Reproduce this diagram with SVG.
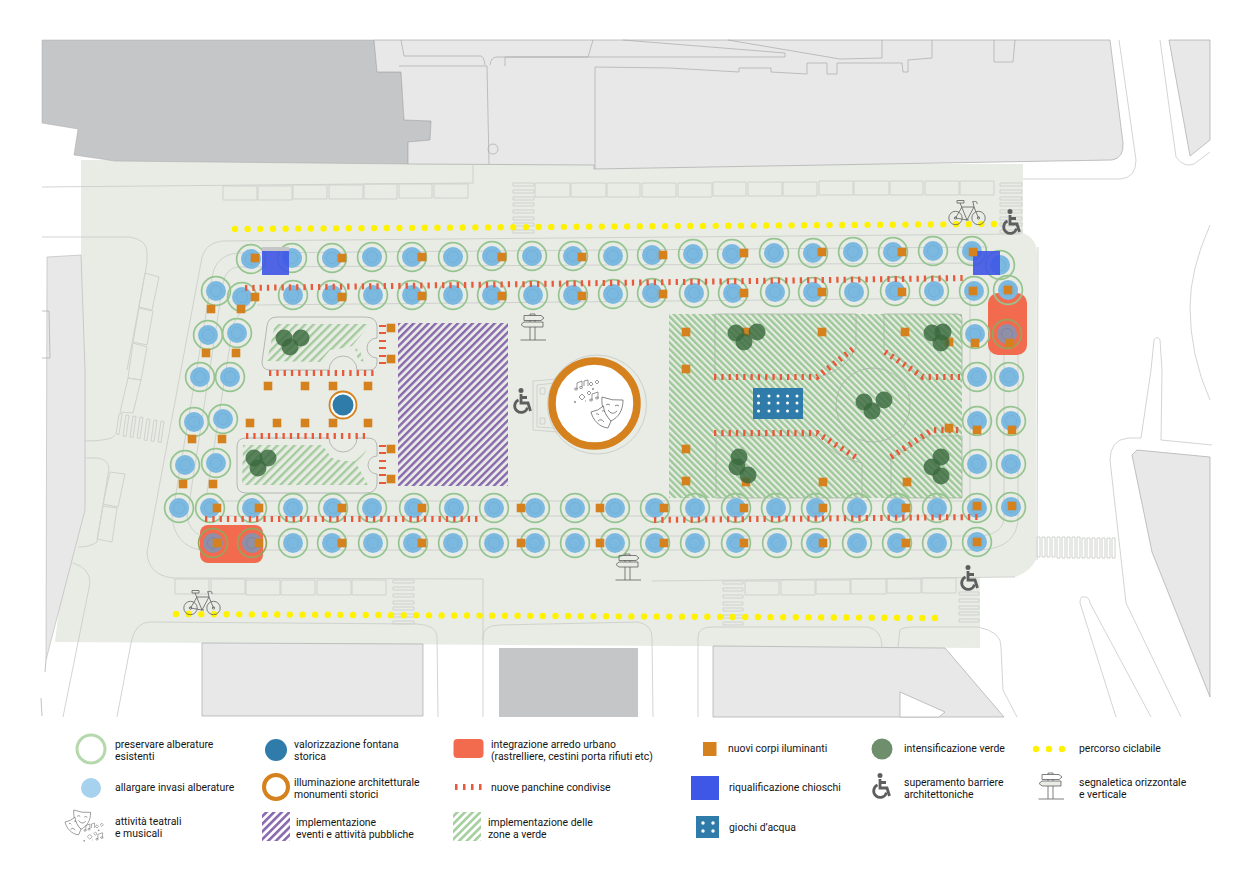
<svg xmlns="http://www.w3.org/2000/svg" width="1240" height="874" viewBox="0 0 1240 874">
<style>
.l{fill:none;stroke:#c8cac7;stroke-width:.8}
.o{fill:none;stroke:#aeb1ac;stroke-width:.9}
.f{fill:none;stroke:#a7b6a3;stroke-width:.8}
.k{fill:none;stroke:#cfd2cd;stroke-width:1}
.b{fill:#e8e8e8;stroke:#a9a9a9;stroke-width:.7}
.in{fill:none;stroke:#a9a9a9;stroke-width:.7}
.bn{fill:none;stroke:#e8583a;stroke-width:6;stroke-dasharray:2.3 5}
.bs{fill:none;stroke:#e8583a;stroke-width:2.2}
.cl{fill:#3a6a3e;fill-opacity:.82}
.yl{fill:none;stroke:#fff200;stroke-width:6.4;stroke-linecap:round;stroke-dasharray:0 12.65}
.ic{fill:none;stroke:#5f5f5f;stroke-width:.8}
.wc{fill:none;stroke:#5e5e5e;stroke-width:2.8}
.lg{font-family:Roboto,"Liberation Sans",sans-serif;font-size:10.45px;fill:#151515}
</style>
<defs>
<pattern id="hp" width="5.2" height="5.2" patternUnits="userSpaceOnUse" patternTransform="rotate(45)"><rect width="5.2" height="5.2" fill="#e8ece5"/><rect width="2.4" height="5.2" fill="#8a68ae"/></pattern>
<pattern id="hg" width="4.6" height="4.6" patternUnits="userSpaceOnUse" patternTransform="rotate(-45)"><rect width="4.6" height="4.6" fill="#e8ece5"/><rect width="2.4" height="4.6" fill="#9dc898"/></pattern>
<pattern id="hg2" width="6" height="6" patternUnits="userSpaceOnUse" patternTransform="rotate(45)"><rect width="6" height="6" fill="#e8ece5"/><rect width="2.4" height="6" fill="#a4cb9d"/></pattern>
<pattern id="lp" width="5.4" height="5.4" patternUnits="userSpaceOnUse" patternTransform="rotate(45)"><rect width="2.6" height="5.4" fill="#8a68ae"/></pattern>
<pattern id="lg" width="5.4" height="5.4" patternUnits="userSpaceOnUse" patternTransform="rotate(45)"><rect width="2.6" height="5.4" fill="#a4cf9d"/></pattern>
<g id="t"><circle r="14.400" fill="none" stroke="#96c490" stroke-width="1.700"/><circle r="10" fill="#7cb9e0"/><circle r="5.600" fill="none" stroke="#6faed6" stroke-width=".7"/></g>
<g id="tr"><circle r="14.400" fill="none" stroke="#9aa25f" stroke-width="1.700"/><circle r="10" fill="#8f8fa8"/><circle r="5.600" fill="none" stroke="#7f7f9b" stroke-width=".7"/></g>
<rect id="m" x="-4.300" y="-4.300" width="8.600" height="8.600" fill="#d5811e"/>
<g id="wh"><circle cx="-1" cy="-10.500" r="2.500" fill="#5e5e5e"/><path class="wc" d="M-1,-7V2H6L8.500,10M-1,-3.500H5"/><path class="wc" d="M-3.500,-1A6.500,6.500 0 1 0 5.500,6.500"/></g>
<g id="bk" class="ic"><circle cx="-11.500" cy="6" r="6.700"/><circle cx="11.500" cy="6" r="6.700"/><circle cx="-11.500" cy="6" r="1.200"/><circle cx="11.500" cy="6" r="1.200"/><path d="M-11.500,6L-5,-5H7L0,8ZM-7,-9L0,8M7,-5L11.500,6M6,-10L7,-5M5,-10C7,-11 11,-11 10,-8"/><path d="M-1,8h3M-10,-11.500h7v2.500h-7z"/></g>
<g id="sg" class="ic"><path d="M-12.500,13H13M-3,-7V13M2,-7V13M-3,-11.500V-13h5v1.500"/><path d="M-9,-11.500H8L11,-9L8,-6.500H-9Z"/><path d="M-9,-5H10V0H-9L-12,-2.500Z" fill="#e8ece5"/></g>
<g id="ms" fill="#fff" stroke="#6a6a6a" stroke-width=".8"><path d="M11,0Q21,4 32,3C32,13 28,20 20,24C14,19 10,10 11,0Z"/><path d="M0,15Q7,14 12.500,9C13,15 16,20 20,24L17,31C8,30 2,23 0,15Z"/><path fill="none" d="M15,8q2,-2 4,0M24,9q2,-2 4,0M17,13q4,6 9,1M5,17q2,-1 3,1M11,14q2,-1 3,1M7,24q3,-3 6,1"/></g>
<g id="nt" fill="none" stroke="#6a6a6a" stroke-width=".7"><path d="M1,8V2L6,0V6M8,5V0L12,-1V5M16,19V13L22,11V17"/><ellipse cx="0" cy="8" rx="1.500" ry="1"/><ellipse cx="5" cy="6.500" rx="1.500" ry="1"/><ellipse cx="15" cy="19" rx="1.500" ry="1"/><ellipse cx="21" cy="17" rx="1.500" ry="1"/><path d="M13,3l2,-2l2,2l-2,2zM19,1l2,-2l2,2l-2,2zM3,16l3,-3l3,3l-3,3zM11,12l2,-2l2,2l-2,2zM-2,21h2M-1,20v2M16,8h2M17,7v2M9,20h1"/></g>
</defs>

<g id="base">
<path d="M81,160L1023,164V233Q1036,238 1037,252L1036,560Q1030,572 1015,577H980V648L55,642L81,420Z" fill="#e8ece5"/>
<path d="M42,40H374L377,72H401L404,120L431,121L430,140L408,142V164L115,161L74,155L78,129L42,123Z" fill="#c5c6c8" stroke="#a9a9a9" stroke-width=".5"/>
<path class="b" d="M374,40H1110L1123,143Q1124,158 1112,160L594,169V165L408,164V142L430,140L431,121L404,120L401,72L377,72Z"/>
<path class="in" d="M401,40L404,56H481Q484,57 485,65M399,66H487L489,164M490,65Q491,57 497,57H588L593,40M505,57V66M595,169V67L670,68L739,72V68L771,68V72L807,74V63H827V74H837V63H902L903,72H908V60L932,58V40M882,40V58L840,59L728,40M623,40L785,53V57L505,57M994,40V62H1013L1015,40"/>
<circle class="in" cx="493" cy="149" r="5"/>
<path class="l" d="M1119,40L1136,160Q1136,178 1120,179H1023"/>
<path class="b" d="M1169,40H1210V140L1190,156Z"/>
<path class="l" d="M1160,40L1176,157Q1184,168 1194,164L1210,152M1210,225Q1190,270 1190,307Q1190,355 1210,400M1151,370L1154,340Q1157,335 1160,340L1162,370M1151,370L1141,438H1128Q1110,440 1110,460L1126,603L1181,717M1162,370L1161,440L1212,445"/>
<path class="b" d="M1137,450L1210,457V697L1152,552L1132,455Z"/>
<path class="l" d="M1080,603Q1080,595 1085,597Q1089,597 1090,603L1151,717M1080,603L1116,717"/>
<path d="M47,257L81,255L85,370V510L46,660Z" fill="#e8e8e8" stroke="#a9a9a9" stroke-width=".5"/>
<path class="in" d="M42,311H49L50,358H42M45,672L46,660M41,698L42,716"/>
<path class="b" d="M202,643L423,644V716H202Z"/>
<rect x="499" y="648" width="139" height="69" fill="#c5c6c8"/>
<path class="b" d="M713,646L945,648L1004,717H713Z"/>
<path fill="#fff" stroke="#a9a9a9" stroke-width=".7" d="M900,692L945,712L939,717H900Z"/>
<g id="roads"><path class="l" d="M42,187L473,183L473,165M42,237H130Q147,240 147,252V263L127,370M115,435Q112,441 85,441M85,458H98Q108,460 109,468L97,542Q90,547 78,547M73,563Q90,568 90,583L63,717M117,717L131,643Q135,622 150,622L417,624Q437,625 437,637L438,717M483,717V637Q483,625 500,625L638,622Q652,625 652,637L653,717M698,717V637Q698,627 712,627H868Q882,630 882,647M898,647L900,630Q903,627 914,627H978Q1002,632 1001,647L1003,690L1017,717M147,552Q148,575 173,578L483,579M652,581L1015,577M222,241L1020,234M222,241Q206,243 202,257L147,552M1038,247L1037,560M483,579V640"/></g>
<g id="strips"><path class="k" d="M223,186L257,186V200H223ZM258,186H292V200H258ZM293,185H327V199H293ZM329,185H363V199H329ZM364,184H397V199H364ZM399,184H432V198H399ZM434,184H468V198H434Z"/><path class="k" d="M535,183H570V197H535ZM571,183H606V197H571ZM607,183H640V197H607ZM642,183H676V197H642ZM678,183H712V197H678ZM713,182H746V196H713ZM748,182H782V196H748ZM783,182H817V196H783ZM819,181H853V195H819ZM854,181H889V195H854ZM890,181H923V195H890ZM925,181H959V195H925ZM960,181H994V195H960Z"/><path class="k" d="M175,579H209V594H175ZM211,579H245V594H211ZM246,580H280V595H246ZM281,580H315V595H281ZM317,580H351V595H317ZM352,580H386V595H352Z"/><path class="k" d="M745,581H779V595H745ZM781,580H815V595H781ZM816,580H850V594H816ZM851,579H886V594H851ZM887,579H921V593H887ZM922,578H956V593H922Z"/><path class="k" d="M145,273L159,277L152,310L139,307ZM139,308L153,311L147,345L133,342ZM133,343L147,347L141,380L128,378ZM128,378L141,380L133,413L120,412ZM110,472L125,474L118,507L103,504ZM103,506L117,508L112,542L97,539Z"/></g>
<g id="xing" class="k"><path d="M513,183h21v3h-21zM513,190h21v3h-21zM513,197h21v3h-21zM513,203h21v3h-21zM513,210h21v3h-21zM513,217h21v3h-21zM513,223h21v3h-21zM513,230h21v3h-21zM1000,183h22v3h-22zM1000,190h22v3h-22zM1000,197h22v3h-22zM1000,203h22v3h-22zM1000,210h22v3h-22zM1000,217h22v3h-22zM1000,223h22v3h-22zM1000,230h22v3h-22zM393,580h21v3h-21zM393,587h21v3h-21zM393,594h21v3h-21zM393,601h21v3h-21zM393,607h21v3h-21zM393,614h21v3h-21zM393,621h21v3h-21zM723,581h20v3h-20zM723,588h20v3h-20zM723,595h20v3h-20zM723,602h20v3h-20zM723,608h20v3h-20zM723,615h20v3h-20zM723,622h20v3h-20zM959,592h20v3h-20zM959,599h20v3h-20zM959,606h20v3h-20zM959,612h20v3h-20zM959,619h20v3h-20zM1037,537h3v20h-3zM1042,537h3v20h-3zM1047,537h3v20h-3zM1052,537h3v20h-3zM1057,537h3v21h-3zM1062,537h3v21h-3zM1067,537h3v21h-3zM1072,537h3v21h-3zM1077,537h3v21h-3zM1082,538h3v20h-3zM1087,538h3v20h-3zM1092,538h3v20h-3zM1097,538h3v20h-3zM1102,538h3v20h-3zM1107,538h3v20h-3zM1112,538h3v20h-3zM119,414l3,-.500l-3,21l-3,-.500zM126,415l3,.500l-3,21l-3,-.500zM133,416l3,.500l-3,21l-3,-.500zM140,417l3,.500l-3,21l-3,-.500zM147,419l3,.500l-3,21l-3,-.500zM154,420l3,.500l-3,21l-3,-.500zM161,421l3,.500l-3,21l-3,-.500z"/></g>
</g>

<g id="tracks"><path class="l" d="M988,247L238,253Q215,255 212,278L172,517Q175,545 200,550H980Q1018,548 1018,517V300M988,263L238,267Q226,268 223,283L187,517Q190,532 202,536H980Q1004,534 1004,517V300M257,305L980,298M250,304Q240,310 233,325L207,493M218,501H980M218,516H980M970,300V520M990,300V500"/></g>

<g id="zones">
<rect x="398" y="323" width="110" height="163" fill="url(#hp)"/>
<rect x="669" y="314" width="293" height="184" fill="url(#hg)"/>
<polygon points="275,324 368,324 367,328 352,346 343,348 330,350 320,362 267,361" fill="url(#hg2)"/>
<polygon points="355,348 360,351 364,362 358,360" fill="url(#hg2)"/>
<polygon points="243,445 322,445 332,458 343,461 355,461 367,450 357,465 368,485 242,485" fill="url(#hg2)"/>
<path class="o" d="M277,317H365Q377,317 377,327V338A10,10 0 0 0 377,358V362Q377,370 369,370H357A14,14 0 0 0 329,370H270Q262,370 262,362L267,326Q268,317 277,317ZM246,438H329A14,14 0 0 0 357,438H368Q377,438 377,447V456A9,9 0 0 0 377,474V484Q376,493 366,493H246Q237,493 237,484V447Q237,438 246,438Z"/>
<path class="f" d="M715,377V314H856V348Q845,370 820,377M884,314V350Q905,360 922,377M884,314H958Q962,314 962,318V377M716,498V436H817Q835,458 862,463V498ZM891,498V458L928,436H962V498Z"/>
<circle class="f" cx="873" cy="405" r="37"/>
</g>

<g id="arredo"><rect x="988" y="293" width="39" height="62" rx="10" fill="#f26b4f"/><rect x="200" y="525" width="63" height="38" rx="8" fill="#f26b4f"/></g>

<g id="alberi">
<use href="#t" x="251" y="259"/><use href="#t" x="292" y="258"/><use href="#t" x="332" y="258"/><use href="#t" x="372" y="257"/><use href="#t" x="412" y="257"/><use href="#t" x="453" y="257"/><use href="#t" x="492" y="256"/><use href="#t" x="532" y="256"/><use href="#t" x="573" y="256"/><use href="#t" x="613" y="256"/><use href="#t" x="652" y="255"/><use href="#t" x="693" y="254"/><use href="#t" x="732" y="254"/><use href="#t" x="774" y="253"/><use href="#t" x="813" y="253"/><use href="#t" x="853" y="252"/><use href="#t" x="893" y="252"/><use href="#t" x="933" y="251"/><use href="#t" x="972" y="251"/><use href="#t" x="1000" y="265"/>
<use href="#t" x="216" y="291"/><use href="#t" x="242" y="297"/><use href="#t" x="293" y="295"/><use href="#t" x="332" y="295"/><use href="#t" x="373" y="295"/><use href="#t" x="412" y="295"/><use href="#t" x="453" y="295"/><use href="#t" x="492" y="295"/><use href="#t" x="533" y="295"/><use href="#t" x="573" y="295"/><use href="#t" x="613" y="294"/><use href="#t" x="652" y="293"/><use href="#t" x="694" y="293"/><use href="#t" x="733" y="293"/><use href="#t" x="775" y="292"/><use href="#t" x="813" y="292"/><use href="#t" x="854" y="292"/><use href="#t" x="895" y="291"/><use href="#t" x="934" y="291"/><use href="#t" x="974" y="291"/><use href="#t" x="1008" y="290"/>
<use href="#t" x="208" y="335"/><use href="#t" x="237" y="333"/><use href="#t" x="200" y="377"/><use href="#t" x="230" y="377"/><use href="#t" x="194" y="422"/><use href="#t" x="223" y="419"/><use href="#t" x="185" y="465"/><use href="#t" x="216" y="463"/>
<use href="#t" x="179" y="508"/><use href="#t" x="210" y="508"/><use href="#t" x="252" y="508"/><use href="#t" x="293" y="508"/><use href="#t" x="333" y="508"/><use href="#t" x="372" y="508"/><use href="#t" x="414" y="508"/><use href="#t" x="454" y="508"/><use href="#t" x="494" y="508"/><use href="#t" x="535" y="508"/><use href="#t" x="575" y="508"/><use href="#t" x="615" y="508"/><use href="#t" x="655" y="508"/><use href="#t" x="695" y="508"/><use href="#t" x="736" y="508"/><use href="#t" x="776" y="508"/><use href="#t" x="816" y="508"/><use href="#t" x="857" y="508"/><use href="#t" x="897" y="508"/><use href="#t" x="937" y="508"/><use href="#t" x="977" y="508"/><use href="#t" x="1011" y="507"/>
<use href="#tr" x="213" y="543"/><use href="#tr" x="252" y="543"/><use href="#t" x="293" y="543"/><use href="#t" x="332" y="543"/><use href="#t" x="373" y="543"/><use href="#t" x="413" y="543"/><use href="#t" x="453" y="543"/><use href="#t" x="494" y="543"/><use href="#t" x="535" y="543"/><use href="#t" x="575" y="543"/><use href="#t" x="615" y="543"/><use href="#t" x="655" y="543"/><use href="#t" x="695" y="543"/><use href="#t" x="736" y="543"/><use href="#t" x="777" y="543"/><use href="#t" x="816" y="543"/><use href="#t" x="857" y="543"/><use href="#t" x="897" y="543"/><use href="#t" x="937" y="543"/><use href="#t" x="977" y="542"/>
<use href="#t" x="975" y="334"/><use href="#tr" x="1007" y="334"/><use href="#t" x="977" y="377"/><use href="#t" x="1009" y="377"/><use href="#t" x="977" y="421"/><use href="#t" x="1011" y="421"/><use href="#t" x="977" y="464"/><use href="#t" x="1011" y="464"/>
</g>

<g id="chioschi"><rect x="262" y="247" width="27" height="4" fill="#c5c6c8"/><rect x="262" y="251" width="27" height="24" fill="#3e57e6" fill-opacity=".9"/><rect x="973" y="251" width="27" height="24" fill="#3e57e6" fill-opacity=".9"/></g>

<g id="panchine">
<path class="bn" d="M245,288L967,278"/><path class="bn" d="M205,519H478"/><path class="bn" d="M654,520L978,517"/><path class="bn" d="M269,373H374"/><path class="bn" d="M246,436H365"/>
<path class="bn" d="M714,377H817L853,349"/><path class="bn" d="M885,352L923,377H960"/><path class="bn" d="M714,433H817L857,458"/><path class="bn" d="M891,457L932,430H961"/>
<path class="bs" d="M379,326h7M379,333h7M379,341h7M379,348h7M379,356h7M379,363h7M379,446h7M379,453h7M379,461h7M379,468h7M379,475h7M379,483h7"/>
</g>

<g id="lampioni">
<use href="#m" x="255" y="258"/><use href="#m" x="342" y="258"/><use href="#m" x="422" y="257"/><use href="#m" x="502" y="257"/><use href="#m" x="582" y="257"/><use href="#m" x="663" y="255"/><use href="#m" x="744" y="253"/><use href="#m" x="822" y="252"/><use href="#m" x="902" y="252"/><use href="#m" x="973" y="252"/>
<use href="#m" x="255" y="297"/><use href="#m" x="342" y="297"/><use href="#m" x="422" y="296"/><use href="#m" x="502" y="296"/><use href="#m" x="582" y="296"/><use href="#m" x="663" y="294"/><use href="#m" x="744" y="293"/><use href="#m" x="822" y="292"/><use href="#m" x="902" y="292"/><use href="#m" x="973" y="291"/><use href="#m" x="1008" y="290"/>
<use href="#m" x="211" y="309"/><use href="#m" x="241" y="309"/><use href="#m" x="206" y="353"/><use href="#m" x="236" y="353"/><use href="#m" x="192" y="439"/><use href="#m" x="222" y="439"/><use href="#m" x="183" y="484"/><use href="#m" x="213" y="484"/>
<use href="#m" x="217" y="508"/><use href="#m" x="259" y="508"/><use href="#m" x="342" y="508"/><use href="#m" x="422" y="508"/><use href="#m" x="521" y="508"/><use href="#m" x="600" y="508"/><use href="#m" x="664" y="508"/><use href="#m" x="744" y="508"/><use href="#m" x="823" y="508"/><use href="#m" x="906" y="508"/><use href="#m" x="977" y="506"/><use href="#m" x="1012" y="506"/>
<use href="#m" x="217" y="543"/><use href="#m" x="259" y="543"/><use href="#m" x="342" y="543"/><use href="#m" x="422" y="543"/><use href="#m" x="521" y="543"/><use href="#m" x="600" y="543"/><use href="#m" x="664" y="543"/><use href="#m" x="744" y="543"/><use href="#m" x="823" y="543"/><use href="#m" x="906" y="543"/><use href="#m" x="977" y="542"/>
<use href="#m" x="975" y="343"/><use href="#m" x="1010" y="343"/><use href="#m" x="977" y="430"/><use href="#m" x="1012" y="430"/>
<use href="#m" x="391" y="328"/><use href="#m" x="391" y="359"/><use href="#m" x="268" y="386"/><use href="#m" x="305" y="386"/><use href="#m" x="333" y="386"/><use href="#m" x="368" y="386"/><use href="#m" x="250" y="423"/><use href="#m" x="277" y="423"/><use href="#m" x="305" y="423"/><use href="#m" x="333" y="423"/><use href="#m" x="368" y="423"/><use href="#m" x="391" y="449"/><use href="#m" x="391" y="479"/>
<use href="#m" x="686" y="332"/><use href="#m" x="746" y="332"/><use href="#m" x="822" y="332"/><use href="#m" x="905" y="332"/><use href="#m" x="949" y="342"/><use href="#m" x="686" y="369"/><use href="#m" x="686" y="449"/><use href="#m" x="686" y="481"/><use href="#m" x="746" y="482"/><use href="#m" x="823" y="482"/><use href="#m" x="907" y="482"/><use href="#m" x="949" y="428"/>
</g>

<g id="verde">
<circle class="cl" cx="284" cy="338" r="8.500"/><circle class="cl" cx="301" cy="338" r="8.500"/><circle class="cl" cx="290" cy="347" r="8.500"/>
<circle class="cl" cx="254" cy="458" r="8.500"/><circle class="cl" cx="268" cy="458" r="8.500"/><circle class="cl" cx="258" cy="468" r="8.500"/>
<circle class="cl" cx="736" cy="333" r="8.500"/><circle class="cl" cx="757" cy="332" r="8.500"/><circle class="cl" cx="744" cy="342" r="8.500"/>
<circle class="cl" cx="932" cy="333" r="8.500"/><circle class="cl" cx="943" cy="332" r="8.500"/><circle class="cl" cx="941" cy="343" r="8.500"/>
<circle class="cl" cx="864" cy="402" r="8.500"/><circle class="cl" cx="884" cy="400" r="8.500"/><circle class="cl" cx="872" cy="411" r="8.500"/>
<circle class="cl" cx="739" cy="457" r="8.500"/><circle class="cl" cx="737" cy="467" r="8.500"/><circle class="cl" cx="748" cy="475" r="8.500"/>
<circle class="cl" cx="941" cy="457" r="8.500"/><circle class="cl" cx="932" cy="467" r="8.500"/><circle class="cl" cx="941" cy="476" r="8.500"/>
</g>

<g id="fontana"><circle cx="343" cy="405" r="13.500" fill="#fff" fill-opacity=".85" stroke="#d5811e" stroke-width="1.800"/><circle cx="343" cy="405" r="10.500" fill="#2f7cab"/></g>

<g id="monumento">
<path class="l" d="M533,381L558,379M533,430L558,432M533,381V430M537,385V427L555,428M537,385L555,383M540,388h5v6h-5zM540,418h5v6h-5z"/>
<circle cx="597" cy="404.500" r="49.500" fill="none" stroke="#cdd0cb"/>
<circle cx="594.500" cy="403.500" r="42.500" fill="#fff" stroke="#d5811e" stroke-width="7.500"/>
<use href="#ms" x="591" y="397"/><use href="#nt" x="576" y="381"/>
</g>

<g id="giochi"><rect x="753" y="388" width="50" height="31" fill="#2f7cab"/><g fill="#fff"><circle cx="758.500" cy="396" r="1.500"/><circle cx="769" cy="396" r="1.500"/><circle cx="778" cy="396" r="1.500"/><circle cx="787.500" cy="396" r="1.500"/><circle cx="797" cy="396" r="1.500"/><circle cx="758.500" cy="403" r="1.500"/><circle cx="769" cy="403" r="1.500"/><circle cx="778" cy="403" r="1.500"/><circle cx="787.500" cy="403" r="1.500"/><circle cx="797" cy="403" r="1.500"/><circle cx="758.500" cy="411" r="1.500"/><circle cx="769" cy="411" r="1.500"/><circle cx="778" cy="411" r="1.500"/><circle cx="787.500" cy="411" r="1.500"/><circle cx="797" cy="411" r="1.500"/></g></g>

<g id="ciclabile"><path class="yl" d="M235,229L994,224"/><path class="yl" d="M176,614L936,618"/></g>
<g id="icone">
<use href="#bk" x="967" y="212"/><use href="#bk" x="202" y="602"/>
<use href="#wh" x="1011" y="222"/><use href="#wh" x="522" y="401"/><use href="#wh" x="969" y="578"/>
<use href="#sg" x="533" y="327"/><use href="#sg" x="628" y="567"/>
</g>

<g id="legenda">
<g id="lg-preservare"><circle cx="91" cy="749" r="14" fill="none" stroke="#b5d8ac" stroke-width="3"/><text class="lg" x="115" y="748">preservare alberature</text><text class="lg" x="115" y="760">esistenti</text></g>
<g id="lg-invasi"><circle cx="91" cy="788" r="10" fill="#a6d2ee"/><text class="lg" x="115" y="791">allargare invasi alberature</text></g>
<g id="lg-teatro"><use href="#ms" transform="translate(65,810) scale(.8)"/><use href="#nt" transform="translate(85,824) scale(.8)"/><text class="lg" x="115" y="825">attività teatrali</text><text class="lg" x="115" y="837">e musicali</text></g>
<g id="lg-fontana"><circle cx="276" cy="750" r="11" fill="#2f7cab"/><text class="lg" x="294" y="748">valorizzazione fontana</text><text class="lg" x="294" y="760">storica</text></g>
<g id="lg-illuminazione"><circle cx="276" cy="787" r="12" fill="none" stroke="#d5811e" stroke-width="4"/><text class="lg" x="294" y="786">illuminazione architetturale</text><text class="lg" x="294" y="798">monumenti storici</text></g>
<g id="lg-eventi"><rect x="262" y="812" width="28" height="29" fill="url(#lp)"/><text class="lg" x="296" y="826">implementazione</text><text class="lg" x="296" y="838">eventi e attività pubbliche</text></g>
<g id="lg-arredo"><rect x="453.500" y="739" width="30" height="19" rx="4" fill="#f26b4f"/><text class="lg" x="491" y="748">integrazione arredo urbano</text><text class="lg" x="491" y="760">(rastrelliere, cestini porta rifiuti etc)</text></g>
<g id="lg-panchine"><path fill="none" stroke="#e8583a" stroke-width="6" d="M455,787h2.500M463,787h2.500M471,787h2.500M479,787h2.500"/><text class="lg" x="491" y="791">nuove panchine condivise</text></g>
<g id="lg-verdi"><rect x="453" y="812" width="28" height="29" fill="url(#lg)"/><text class="lg" x="488" y="826">implementazione delle</text><text class="lg" x="488" y="838">zone a verde</text></g>
<g id="lg-lampioni"><rect x="703" y="742" width="13.500" height="14" fill="#d5811e"/><text class="lg" x="728" y="752">nuovi corpi iluminanti</text></g>
<g id="lg-chioschi"><rect x="691" y="776" width="28" height="24" fill="#3e57e6"/><text class="lg" x="729" y="791">riqualificazione chioschi</text></g>
<g id="lg-giochi"><rect x="696" y="816" width="23" height="22" fill="#2f7cab"/><g fill="#fff"><circle cx="703" cy="823" r="1.700"/><circle cx="713" cy="823" r="1.700"/><circle cx="703" cy="831" r="1.700"/><circle cx="713" cy="831" r="1.700"/></g><text class="lg" x="729" y="831">giochi d’acqua</text></g>
<g id="lg-verde"><circle cx="882" cy="749" r="10.500" fill="#6f8e6b"/><text class="lg" x="904" y="752">intensificazione verde</text></g>
<g id="lg-barriere"><use href="#wh" x="881" y="786"/><text class="lg" x="904" y="785.500">superamento barriere</text><text class="lg" x="904" y="797.500">architettoniche</text></g>
<g id="lg-ciclabile"><circle cx="1036" cy="749" r="3.200" fill="#fff200"/><circle cx="1049" cy="749" r="3.200" fill="#fff200"/><circle cx="1062" cy="749" r="3.200" fill="#fff200"/><text class="lg" x="1079" y="752">percorso ciclabile</text></g>
<g id="lg-segnaletica"><use href="#sg" x="1051" y="786"/><text class="lg" x="1079" y="785.500">segnaletica orizzontale</text><text class="lg" x="1079" y="797.500">e verticale</text></g>
</g>
</svg>
